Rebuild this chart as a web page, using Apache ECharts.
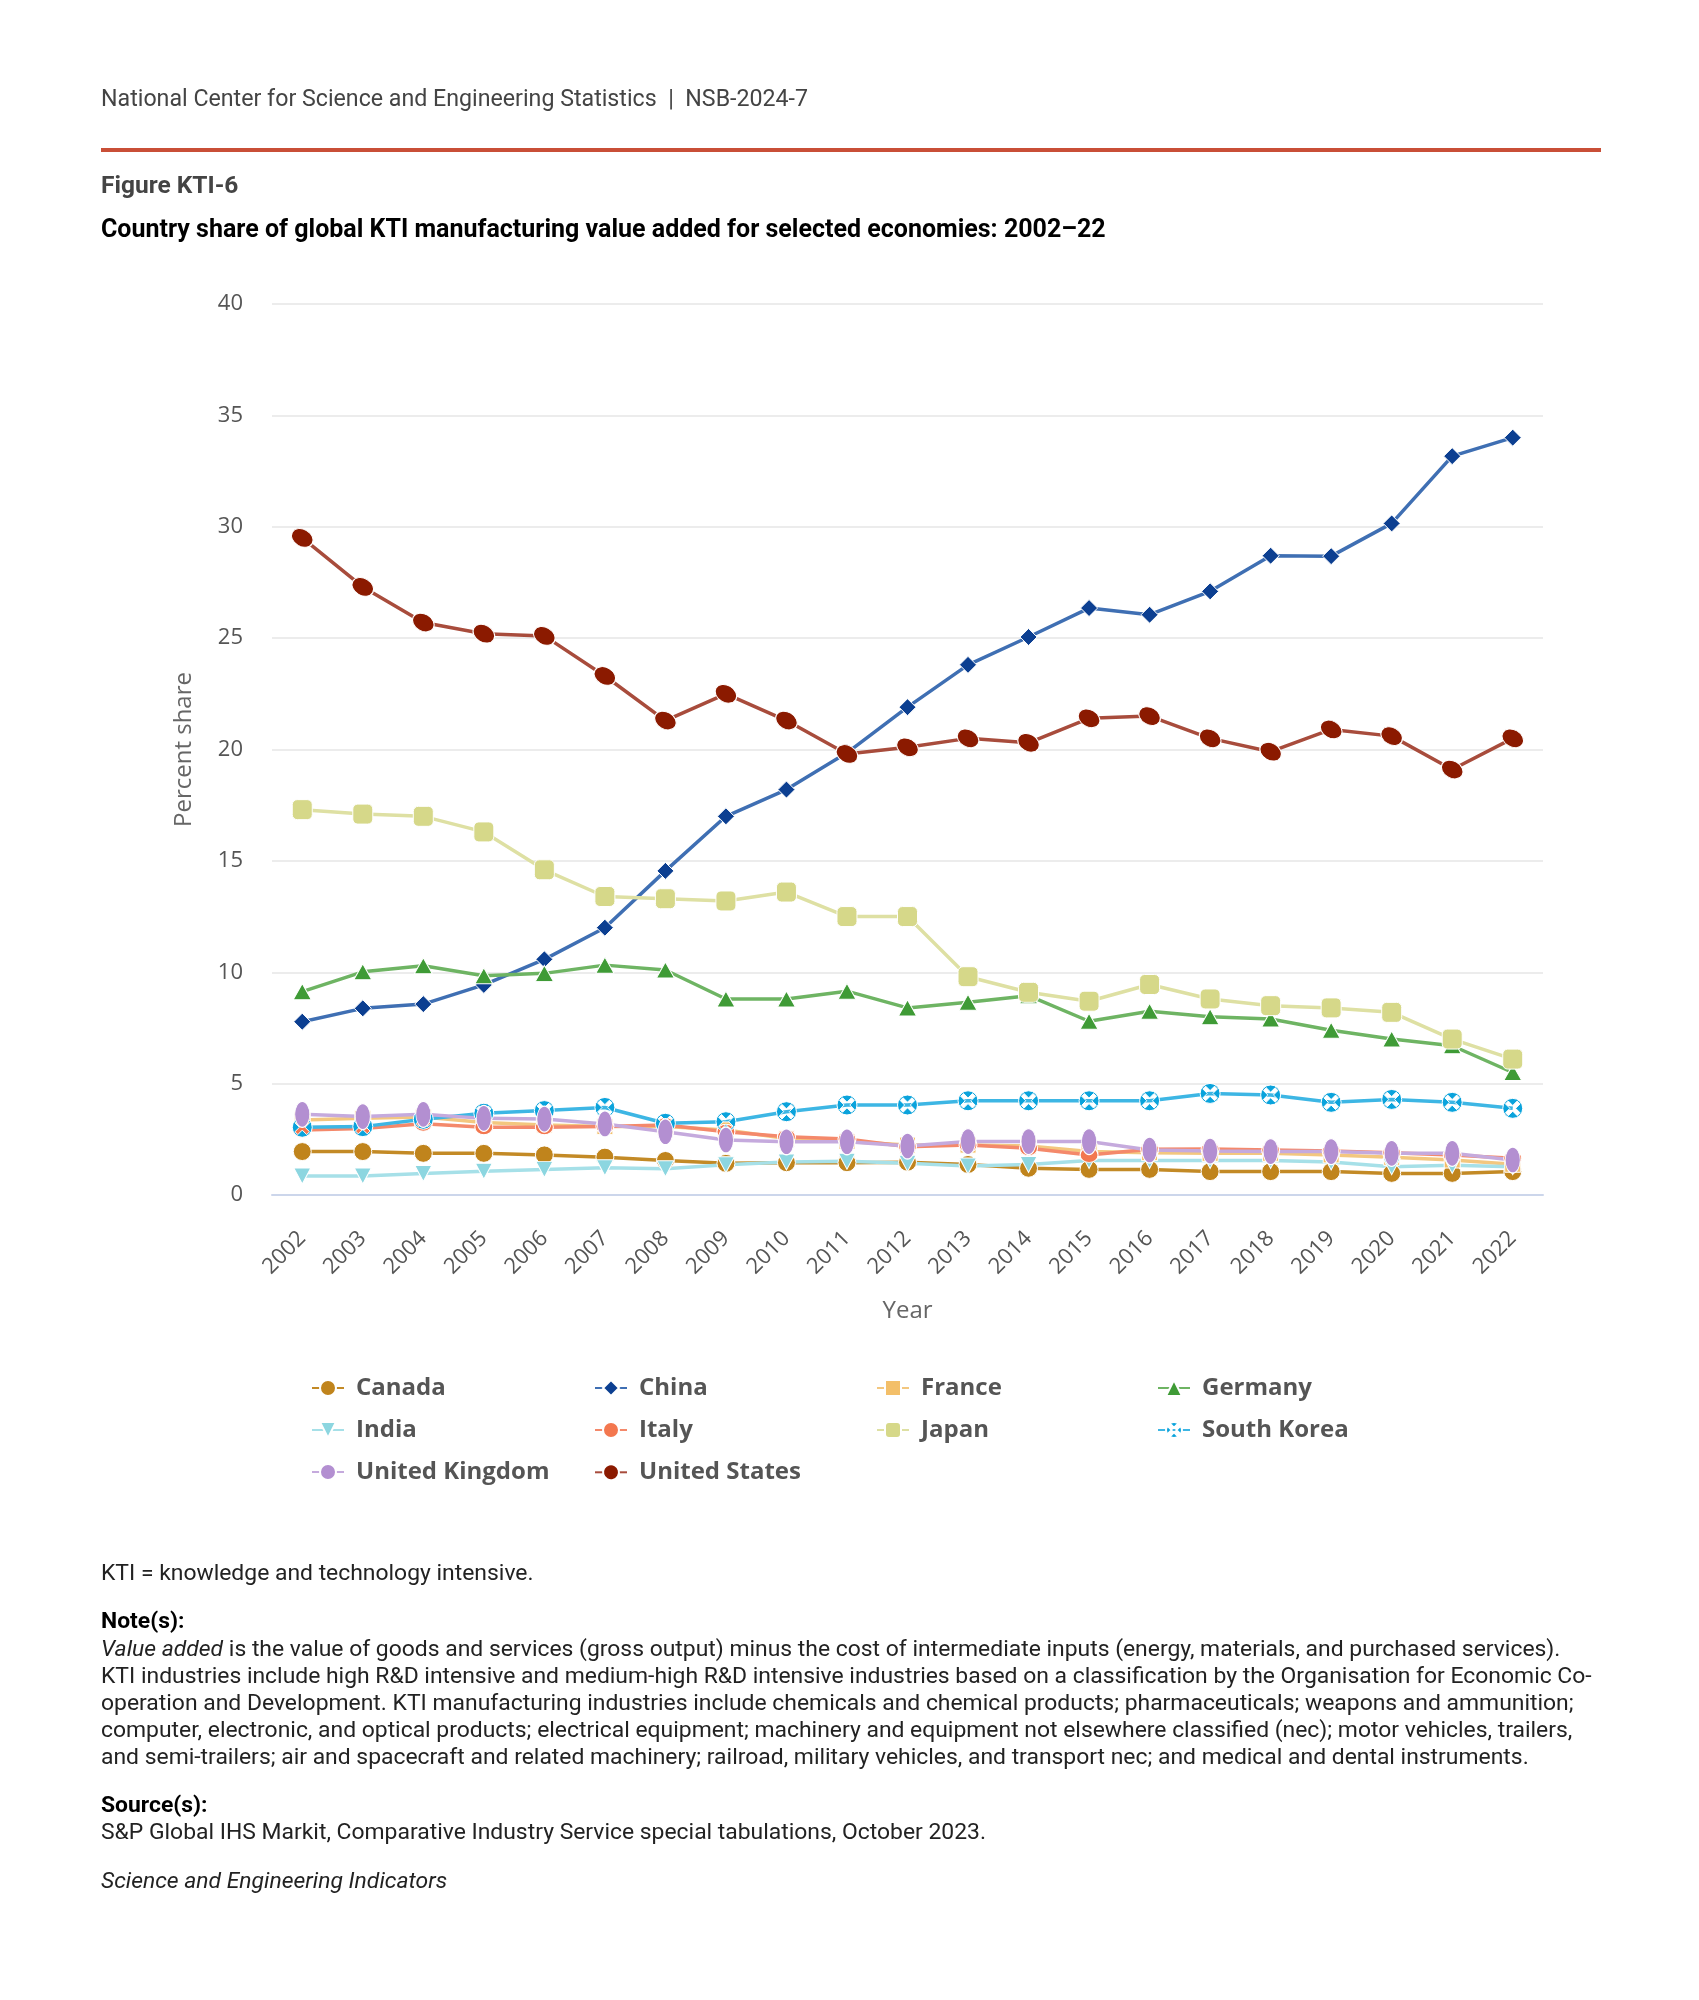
<!DOCTYPE html>
<html>
<head>
<meta charset="utf-8">
<script src="https://cdn.jsdelivr.net/npm/echarts@6/dist/echarts.min.js"></script>
<style>
html,body{margin:0;padding:0;background:#fff;}
#chart{width:1699px;height:2000px;}
</style>
</head>
<body>
<div id="chart"></div>
<script>
const years = ['2002','2003','2004','2005','2006','2007','2008','2009','2010','2011','2012','2013','2014','2015','2016','2017','2018','2019','2020','2021','2022'];
const canada = [1.95,1.95,1.87,1.87,1.8,1.7,1.55,1.42,1.45,1.45,1.47,1.37,1.2,1.15,1.15,1.05,1.05,1.05,0.97,0.97,1.05];
const china = [7.78,8.38,8.57,9.43,10.58,12.0,14.55,17.0,18.2,19.85,21.9,23.8,25.05,26.35,26.05,27.1,28.7,28.68,30.15,33.17,34.0];
const france = [3.37,3.44,3.5,3.25,3.14,3.07,3.07,2.92,2.54,2.4,2.24,2.24,2.2,1.95,1.9,1.87,1.87,1.8,1.69,1.57,1.38];
const germany = [9.13,10.02,10.29,9.84,9.95,10.32,10.1,8.8,8.8,9.15,8.4,8.65,8.95,7.8,8.25,8.0,7.9,7.4,7.0,6.7,5.5];
const india = [0.85,0.85,0.97,1.07,1.15,1.22,1.18,1.36,1.48,1.52,1.42,1.3,1.37,1.55,1.55,1.55,1.55,1.48,1.27,1.33,1.27];
const italy = [2.92,2.99,3.2,3.04,3.04,3.07,3.14,2.84,2.62,2.51,2.17,2.24,2.1,1.8,2.05,2.06,2.02,1.97,1.9,1.8,1.65];
const japan = [17.3,17.1,17.0,16.3,14.6,13.4,13.3,13.2,13.6,12.5,12.5,9.8,9.1,8.7,9.45,8.8,8.5,8.4,8.2,7.0,6.1];
const southKorea = [3.04,3.07,3.4,3.67,3.79,3.93,3.22,3.29,3.74,4.04,4.04,4.23,4.23,4.23,4.23,4.56,4.49,4.16,4.29,4.16,3.89];
const unitedKingdom = [3.62,3.52,3.62,3.44,3.41,3.19,2.84,2.47,2.39,2.39,2.2,2.4,2.4,2.4,2.02,1.97,1.95,1.95,1.87,1.87,1.57];
const unitedStates = [29.5,27.3,25.7,25.2,25.1,23.3,21.3,22.5,21.3,19.8,20.1,20.5,20.3,21.4,21.5,20.5,19.9,20.9,20.6,19.1,20.5];

function xCirclePath(){
  const w = 2.0, L = 8.3, c = 10, s = Math.SQRT1_2;
  const plus = [[-w,-L],[w,-L],[w,-w],[L,-w],[L,w],[w,w],[w,L],[-w,L],[-w,w],[-L,w],[-L,-w],[-w,-w]];
  const pts = plus.map(([x,y]) => [c + (x - y) * s, c + (x + y) * s]).reverse();
  let p = 'M10,0 A10,10 0 1,1 10,20 A10,10 0 1,1 10,0 Z ';
  p += 'M' + pts.map(q => q[0].toFixed(2) + ',' + q[1].toFixed(2)).join(' L') + ' Z';
  return 'path://' + p;
}

function mk(name, data, symbol, size, markerColor, lineColor, rot) {
  return {
    name: name, type: 'line', data: data,
    symbol: symbol, symbolSize: size, symbolRotate: rot || 0,
    showAllSymbol: true,
    lineStyle: { color: lineColor, width: 3.5 },
    itemStyle: { color: markerColor, borderColor: '#ffffff', borderWidth: 1 },
    emphasis: { disabled: true },
    animation: false
  };
}

const series = [
  mk('Canada', canada, 'circle', 18, '#c0841c', '#c38a26'),
  mk('China', china, 'diamond', 17, '#0c3f91', '#3f6fb3'),
  mk('France', france, 'rect', 16, '#f3bf69', '#f3c77f'),
  mk('Germany', germany, 'triangle', [18,16], '#3f9b36', '#6eb463'),
  mk('India', india, 'path://M0,0 L10,0 L5,9 Z', [17,16], '#8cd6e0', '#a6e0e8'),
  mk('Italy', italy, 'circle', [18,15], '#f3774f', '#f4896b'),
  mk('Japan', japan, 'roundRect', 20, '#d6d889', '#dee0a3'),
  mk('South Korea', southKorea, xCirclePath(), 20, '#0aa3dc', '#3db6e4'),
  mk('United Kingdom', unitedKingdom, 'circle', [15,26], '#b38fd1', '#c5aadd'),
  mk('United States', unitedStates, 'circle', [23,17], '#8b1a00', '#a84c3c', -30)
];

const legendCols = [311, 594, 876, 1157];
const legendRows = [1390, 1432, 1474];
const legends = series.map((s, i) => ({
  data: [s.name],
  left: legendCols[i % 4],
  top: legendRows[Math.floor(i / 4)] - 14,
  padding: 0,
  itemWidth: 32, itemHeight: 20,
  selectedMode: false,
  textStyle: { fontFamily: 'Open Sans', fontWeight: 'bold', fontSize: 24, color: '#555555', padding: [0,0,0,7] }
}));

function txt(x, y, text, opts) {
  return { type: 'text', x: x, y: y, silent: true,
    style: Object.assign({ text: text, fontFamily: 'Roboto', fontSize: 22.9, fill: '#222222', verticalAlign: 'middle', align: 'left' }, opts || {}) };
}

const noteLines = [
  '{i|Value added} is the value of goods and services (gross output) minus the cost of intermediate inputs (energy, materials, and purchased services).',
  'KTI industries include high R&D intensive and medium-high R&D intensive industries based on a classification by the Organisation for Economic Co-',
  'operation and Development. KTI manufacturing industries include chemicals and chemical products; pharmaceuticals; weapons and ammunition;',
  'computer, electronic, and optical products; electrical equipment; machinery and equipment not elsewhere classified (nec); motor vehicles, trailers,',
  'and semi-trailers; air and spacecraft and related machinery; railroad, military vehicles, and transport nec; and medical and dental instruments.'
];
const richI = { i: { fontStyle: 'italic', fontFamily: 'Roboto', fontSize: 22.9, fill: '#222222' } };

const graphics = [
  txt(101, 100, 'National Center for Science and Engineering Statistics  |  NSB-2024-7', { fill: '#444444', fontSize: 23.2 }),
  { type: 'rect', silent: true, shape: { x: 101, y: 148, width: 1500, height: 4 }, style: { fill: '#c94f37' } },
  txt(101, 187, 'Figure KTI-6', { fill: '#444444', fontWeight: 'bold', fontSize: 24.5 }),
  txt(101, 231, 'Country share of global KTI manufacturing value added for selected economies: 2002–22', { fill: '#000000', fontWeight: 'bold', fontSize: 25 }),
  txt(101, 1574, 'KTI = knowledge and technology intensive.'),
  txt(101, 1622, 'Note(s):', { fontWeight: 'bold', fill: '#000000' }),
  txt(101, 1806, 'Source(s):', { fontWeight: 'bold', fill: '#000000' }),
  txt(101, 1833, 'S&P Global IHS Markit, Comparative Industry Service special tabulations, October 2023.'),
  txt(101, 1882, 'Science and Engineering Indicators', { fontStyle: 'italic' })
];
noteLines.forEach((l, i) => graphics.push(txt(101, 1650 + i * 27, l, { rich: richI })));

const chart = echarts.init(document.getElementById('chart'), null, { renderer: 'canvas' });
chart.setOption({
  backgroundColor: '#ffffff',
  animation: false,
  grid: { left: 272, right: 156, top: 304, bottom: 805, containLabel: false },
  xAxis: {
    type: 'category', data: years, boundaryGap: true,
    name: 'Year', nameLocation: 'middle', nameGap: 104,
    nameTextStyle: { fontFamily: 'Open Sans', fontSize: 24, color: '#666666' },
    axisLine: { lineStyle: { color: '#ccd6eb', width: 2 } },
    axisTick: { alignWithLabel: true, length: 20, lineStyle: { color: '#ccd6eb', width: 1.5 } },
    axisLabel: { rotate: 45, fontFamily: 'Open Sans', fontSize: 22, color: '#555555', margin: 40, interval: 0 },
    splitLine: { show: false }
  },
  yAxis: {
    type: 'value', min: 0, max: 40, interval: 5,
    name: 'Percent share', nameLocation: 'middle', nameGap: 76,
    nameTextStyle: { fontFamily: 'Open Sans', fontSize: 24, color: '#666666' },
    axisLine: { show: false }, axisTick: { show: false },
    axisLabel: { fontFamily: 'Open Sans', fontSize: 22, color: '#555555', margin: 29 },
    splitLine: { lineStyle: { color: '#e6e6e6', width: 1.5 } }
  },
  legend: legends,
  tooltip: { show: false },
  graphic: graphics,
  series: series
});
</script>
</body>
</html>
